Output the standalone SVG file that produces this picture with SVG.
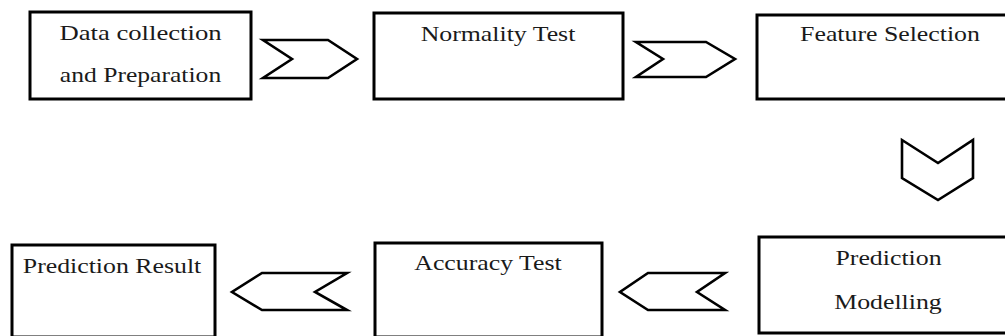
<svg xmlns="http://www.w3.org/2000/svg" width="1005" height="336" viewBox="0 0 1005 336">
<style>
.box{fill:#fff;stroke:#000;stroke-width:3}
.chev{fill:#fff;stroke:#000;stroke-width:2.6;stroke-linejoin:miter}
text{font-family:'Liberation Serif','Times New Roman',serif;font-size:21px;fill:#1a1a1a;text-anchor:middle}
</style>
<rect width="1005" height="336" fill="#fff"/>
<g id="connectors">
<polygon class="chev" points="263,40 328,40 357,59 328,78 263,78 292,59"/>
<polygon class="chev" points="636,42 706,42 735,59 706,77 636,77 663,59"/>
<polygon class="chev" points="902,140 938,163 973,140 973,178 938,200 902,178"/>
<polygon class="chev" points="725,273 648,273 620,292 648,310 725,310 697,292"/>
<polygon class="chev" points="347,273 262,273 232,292 262,310 347,310 315,292"/>
</g>
<g id="n1">
<rect class="box" x="30" y="12" width="221" height="87"/>
<text transform="translate(140.5 40) scale(1.27 1)">Data collection</text>
<text transform="translate(140.5 82) scale(1.22 1)">and Preparation</text>
</g>
<g id="n2">
<rect class="box" x="374" y="13" width="249" height="86"/>
<text transform="translate(498 41) scale(1.23 1)">Normality Test</text>
</g>
<g id="n3">
<rect class="box" x="757" y="15" width="260" height="84"/>
<text transform="translate(890 41) scale(1.23 1)">Feature Selection</text>
</g>
<g id="n4">
<rect class="box" x="759" y="237" width="260" height="96"/>
<text transform="translate(888.5 265) scale(1.23 1)">Prediction</text>
<text transform="translate(888 309) scale(1.23 1)">Modelling</text>
</g>
<g id="n5">
<rect class="box" x="375" y="243" width="227" height="94"/>
<text transform="translate(488 270) scale(1.23 1)">Accuracy Test</text>
</g>
<g id="n6">
<rect class="box" x="12" y="245" width="203" height="92"/>
<text transform="translate(112 273) scale(1.23 1)">Prediction Result</text>
</g>
</svg>
